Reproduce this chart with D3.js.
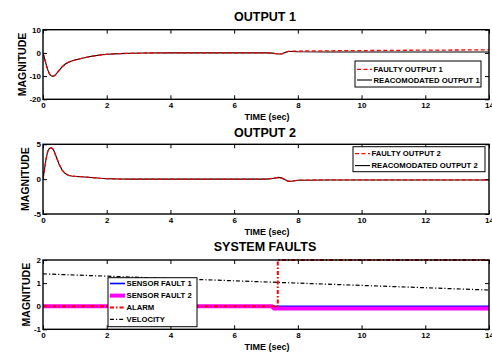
<!DOCTYPE html>
<html>
<head>
<meta charset="utf-8">
<script src="https://cdn.jsdelivr.net/npm/d3@7/dist/d3.min.js"></script>
<style>
  body { margin: 0; background: #fff; }
  svg { display: block; font-family: "Liberation Sans", Arial, sans-serif; font-weight: bold; }
  .tick text { font-size: 8px; font-weight: bold; fill: #000; }
  .tick line { stroke: #000; stroke-width: 1; }
</style>
</head>
<body>
<div id="chart"></div>
<script>
// ---- data ----
var xTicks = [0, 2, 4, 6, 8, 10, 12, 14];

// output 1
var time1 = [0, 0.05, 0.1, 0.15, 0.2, 0.25, 0.3, 0.35, 0.4, 0.5, 0.6, 0.7, 0.8, 0.9, 1.0, 1.2, 1.4, 1.6, 1.8, 2.0, 2.4, 2.8, 3.2, 4, 5, 6, 7, 7.2, 7.4, 7.5, 7.6, 7.7, 7.8, 8, 9, 10, 11, 12, 13, 14];
var reacOutput1 = [0, -2.5, -5, -7.3, -9, -9.8, -10.1, -9.9, -9.3, -7.6, -6, -4.8, -4, -3.5, -3.1, -2.4, -1.8, -1.3, -0.9, -0.6, -0.3, -0.15, -0.05, 0, 0, 0, 0, -0.1, -0.5, -0.4, 0.2, 0.6, 0.6, 0.5, 0.4, 0.4, 0.4, 0.4, 0.4, 0.4];
var faultyOutput1 = [0, -2.5, -5, -7.3, -9, -9.8, -10.1, -9.9, -9.3, -7.6, -6, -4.8, -4, -3.5, -3.1, -2.4, -1.8, -1.3, -0.9, -0.6, -0.3, -0.15, -0.05, 0, 0, 0, 0, -0.1, -0.5, -0.4, 0.2, 0.7, 0.8, 0.8, 0.9, 1.0, 1.1, 1.2, 1.25, 1.3];
var yTicks1 = [-20, -10, 0, 10];

// output 2
var time2 = [0, 0.05, 0.1, 0.15, 0.2, 0.25, 0.3, 0.35, 0.4, 0.5, 0.6, 0.7, 0.8, 0.9, 1.0, 1.2, 1.4, 1.6, 1.8, 2.0, 2.4, 2.8, 4, 6, 7, 7.2, 7.4, 7.5, 7.6, 7.7, 7.8, 8, 9, 10, 11, 12, 13, 14];
var reacOutput2 = [0, 1.5, 3, 4, 4.4, 4.5, 4.4, 4.0, 3.4, 2.2, 1.3, 0.8, 0.55, 0.45, 0.4, 0.35, 0.28, 0.2, 0.12, 0.07, 0.02, 0, 0, 0, 0, 0.1, 0.25, 0.15, -0.1, -0.3, -0.3, -0.15, -0.12, -0.12, -0.12, -0.12, -0.12, -0.12];
var faultyOutput2 = [0, 1.5, 3, 4, 4.4, 4.5, 4.4, 4.0, 3.4, 2.2, 1.3, 0.8, 0.55, 0.45, 0.4, 0.35, 0.28, 0.2, 0.12, 0.07, 0.02, 0, 0, 0, 0, 0.1, 0.25, 0.15, -0.1, -0.3, -0.3, -0.15, -0.1, -0.1, -0.1, -0.1, -0.1, -0.1];
var yTicks2 = [-5, 0, 5];

// system faults
var faultTime1 = [0, 14];
var sensorFault1 = [0, 0];
var faultTime2 = [0, 7.18, 7.25, 14];
var sensorFault2 = [0, 0, -0.1, -0.1];
var alarmTime = [0, 7.37, 7.37, 14];
var alarm = [0, 0, 2, 2];
var velocityTime = [0, 2, 4, 6, 8, 10, 12, 14];
var velocity = [1.4, 1.3, 1.2, 1.1, 1.0, 0.9, 0.8, 0.7];
var yTicks3 = [-1, 0, 1, 2];

function zipXY(xs, ys) {
  return xs.map(function(x, i) { return [x, ys[i]]; });
}

var svgWidth = 492;
var svgHeight = 352;
var left = 43, right = 489;

var svg = d3.select("#chart")
  .append("svg")
  .attr("width", svgWidth)
  .attr("height", svgHeight);

var x = d3.scaleLinear().domain([0, 14]).range([left, right]);

var styles = {
  faulty: { color: "#ff0000", width: 1.3, dash: "4,2.5" },
  reac: { color: "#000", width: 1.1, dash: null },
  sf1: { color: "#0000ff", width: 1.6, dash: null },
  sf2: { color: "#ff00ff", width: 4, dash: null },
  alarm: { color: "#ff0000", width: 2, dash: "4,2,1.5,2" },
  velocity: { color: "#000", width: 1.2, dash: "4,2,1.2,2" }
};

var panels = [
  {
    top: 29.7, bottom: 99.3, domain: [-20, 10], ticks: yTicks1, title: "OUTPUT 1",
    titleY: 16.7, ylabelX: 22,
    series: [
      { data: zipXY(time1, reacOutput1), style: styles.reac },
      { data: zipXY(time1, faultyOutput1), style: styles.faulty }
    ],
    legend: { x: 355, y: 61, w: 126, h: 26, rows: [69.3, 80],
      items: [["FAULTY OUTPUT 1", styles.faulty], ["REACOMODATED OUTPUT 1", styles.reac]] }
  },
  {
    top: 144.3, bottom: 214, domain: [-5, 5], ticks: yTicks2, title: "OUTPUT 2",
    titleY: 132.3, ylabelX: 25.7,
    series: [
      { data: zipXY(time2, reacOutput2), style: styles.reac },
      { data: zipXY(time2, faultyOutput2), style: styles.faulty }
    ],
    legend: { x: 353, y: 146.7, w: 132, h: 25, rows: [153.6, 165.6],
      items: [["FAULTY OUTPUT 2", styles.faulty], ["REACOMODATED OUTPUT 2", styles.reac]] }
  },
  {
    top: 260, bottom: 329.3, domain: [-1, 2], ticks: yTicks3, title: "SYSTEM FAULTS",
    titleY: 247, ylabelX: 26.7,
    series: [
      { data: zipXY(faultTime1, sensorFault1), style: styles.sf1 },
      { data: zipXY(faultTime2, sensorFault2), style: styles.sf2 },
      { data: zipXY(alarmTime, alarm), style: styles.alarm },
      { data: zipXY(velocityTime, velocity), style: styles.velocity }
    ],
    legend: { x: 108, y: 277.7, w: 89, h: 49, rows: [283.5, 295.6, 307.6, 319.4],
      items: [["SENSOR FAULT 1", styles.sf1], ["SENSOR FAULT 2", styles.sf2],
              ["ALARM", styles.alarm], ["VELOCITY", styles.velocity]] }
  }
];

panels.forEach(function(p) {
  var y = d3.scaleLinear().domain(p.domain).range([p.bottom, p.top]);
  var g = svg.append("g");
  var fmt = function(d) { return String(d); };

  // clip for lines
  var clipId = "clip" + Math.round(p.top);
  svg.append("clipPath").attr("id", clipId)
    .append("rect")
    .attr("x", left).attr("y", p.top - 1)
    .attr("width", right - left).attr("height", p.bottom - p.top + 2);

  // axes with inward ticks on all sides
  g.append("g")
    .attr("transform", "translate(0," + p.bottom + ")")
    .call(d3.axisBottom(x).tickValues(xTicks).tickSize(-4).tickPadding(3).tickFormat(fmt))
    .call(function(a) { a.select(".domain").remove(); });
  g.append("g")
    .attr("transform", "translate(0," + p.top + ")")
    .call(d3.axisTop(x).tickValues(xTicks).tickSize(-4).tickFormat(""))
    .call(function(a) { a.select(".domain").remove(); });
  g.append("g")
    .attr("transform", "translate(" + left + ",0)")
    .call(d3.axisLeft(y).tickValues(p.ticks).tickSize(-4).tickPadding(2).tickFormat(fmt))
    .call(function(a) { a.select(".domain").remove(); });
  g.append("g")
    .attr("transform", "translate(" + right + ",0)")
    .call(d3.axisRight(y).tickValues(p.ticks).tickSize(-4).tickFormat(""))
    .call(function(a) { a.select(".domain").remove(); });

  // lines
  var line = d3.line().x(function(d) { return x(d[0]); }).y(function(d) { return y(d[1]); });
  var lines = g.append("g").attr("clip-path", "url(#" + clipId + ")");
  p.series.forEach(function(s) {
    lines.append("path")
      .attr("d", line(s.data))
      .attr("fill", "none")
      .attr("stroke", s.style.color)
      .attr("stroke-width", s.style.width)
      .attr("stroke-dasharray", s.style.dash);
  });

  // frame
  g.append("rect")
    .attr("x", left).attr("y", p.top)
    .attr("width", right - left).attr("height", p.bottom - p.top)
    .attr("fill", "none").attr("stroke", "#000").attr("stroke-width", 1.4);

  // titles and labels
  g.append("text")
    .attr("x", 265).attr("y", p.titleY + 4.4)
    .attr("text-anchor", "middle")
    .attr("font-size", "12.5px")
    .text(p.title);
  g.append("text")
    .attr("x", 267).attr("y", p.bottom + 17.7 + 3.2)
    .attr("text-anchor", "middle")
    .attr("font-size", "9px")
    .text("TIME (sec)");
  g.append("text")
    .attr("transform", "translate(" + (p.ylabelX + 3.7) + "," + ((p.top + p.bottom) / 2) + ") rotate(-90)")
    .attr("text-anchor", "middle")
    .attr("font-size", "10.5px")
    .text("MAGNITUDE");

  // legend
  var lg = p.legend;
  var legend = g.append("g");
  legend.append("rect")
    .attr("x", lg.x).attr("y", lg.y).attr("width", lg.w).attr("height", lg.h)
    .attr("fill", "#fff").attr("stroke", "#000").attr("stroke-width", 1);
  lg.items.forEach(function(item, i) {
    var ry = lg.rows[i];
    legend.append("line")
      .attr("x1", lg.x + 2).attr("x2", lg.x + 17)
      .attr("y1", ry).attr("y2", ry)
      .attr("stroke", item[1].color)
      .attr("stroke-width", item[1].width)
      .attr("stroke-dasharray", item[1].dash);
    legend.append("text")
      .attr("x", lg.x + 18.5).attr("y", ry + 2.8)
      .attr("font-size", "7.7px")
      .text(item[0]);
  });
});
</script>
</body>
</html>
